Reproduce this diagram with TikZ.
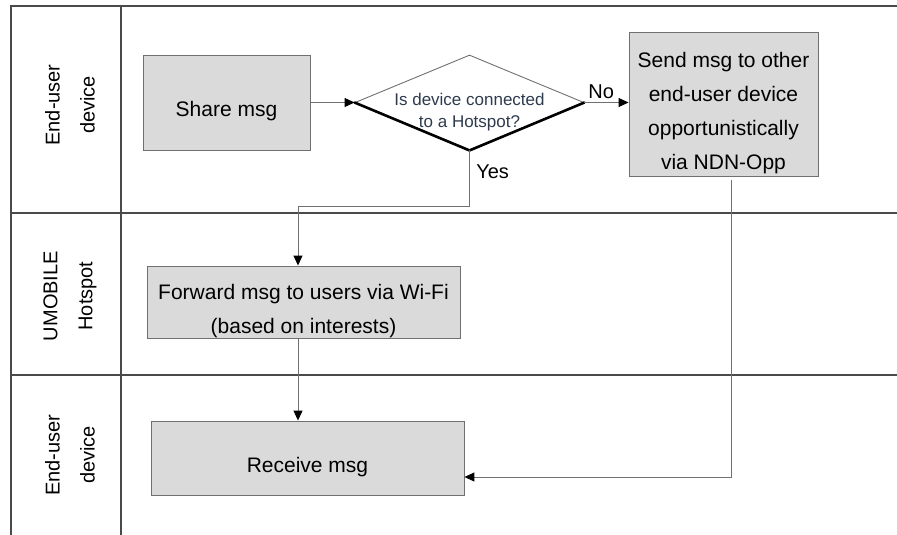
\documentclass[tikz,border=0pt]{standalone}
\usepackage{fontspec}
\setmainfont{Liberation Sans}
\usetikzlibrary{arrows.meta}
\usetikzlibrary{shapes.geometric}
\usetikzlibrary{calc}

\definecolor{boxgray}{HTML}{DADADA}
\definecolor{linegray}{HTML}{707070}
\definecolor{lanegray}{HTML}{4A4A4A}
\definecolor{asktext}{HTML}{2E3B4E}

\begin{document}
\begin{tikzpicture}[x=1pt,y=-1pt,
    lane/.style={draw=lanegray,line width=1.2pt},
    box/.style={draw=linegray,fill=boxgray,line width=0.9pt,inner sep=0pt,
        align=center,text height=33pt,font=\fontsize{21}{34}\selectfont},
    decision/.style={diamond,draw=linegray,line width=0.9pt,inner sep=0pt,
        minimum width=229pt,minimum height=95pt},
    flow/.style={draw=linegray,line width=1pt,
        -{Triangle[length=10pt,width=9pt,color=black]}},
    lanelabel/.style={rotate=90,align=center,font=\fontsize{20}{35}\selectfont},
    tag/.style={font=\fontsize{20}{24}\selectfont}]
    \useasboundingbox (0,0) rectangle (897,535);

    % lanes
    \draw[lane] (11,535) -- (11,6) -- (897,6);
    \draw[lane] (121,6) -- (121,535);
    \draw[lane] (11,213) -- (897,213);
    \draw[lane] (11,375) -- (897,375);

    \node[lanelabel] (lanetop) at (70,105) {End-user\\device};
    \node[lanelabel] (lanemid) at (70,296) {UMOBILE\\Hotspot};
    \node[lanelabel] (lanebot) at (70,455) {End-user\\device};

    % steps
    \node[box,minimum width=167pt,minimum height=95pt] (share) at (226.5,102.5) {Share msg};
    \node[decision] (dec) at (469.5,102.5) {};
    \node[font=\fontsize{17}{22}\selectfont,text=asktext,align=center,text height=54pt]
        (dectext) at (dec) {Is device connected\\to a Hotspot?};
    \draw[line width=2.6pt,line cap=round] (dec.west) -- (dec.south) -- (dec.east);
    \node[box,minimum width=189pt,minimum height=144pt,text height=135pt] (send) at (723.5,104)
        {Send msg to other\\end-user device\\opportunistically\\via NDN-Opp};
    \node[box,minimum width=313pt,minimum height=72pt,text height=67pt] (fwd) at (303.5,302)
        {Forward msg to users via Wi-Fi\\(based on interests)};
    \node[box,minimum width=313pt,minimum height=74pt] (recv) at (307.5,458) {Receive msg};

    \coordinate (yesbend) at (298,206);
    \coordinate (oppbend) at (731,477);

    % connectors
    \draw[flow] (share.east) -- (dec.west);
    \draw[flow] (dec.east) -- node[tag,above,pos=0.38] {No} (dec.east -| send.west);
    \draw[flow] (dec.south) -- node[tag,right,pos=0.39,xshift=3pt] {Yes} (dec.south |- yesbend)
        -| (yesbend |- fwd.north);
    \draw[flow] (yesbend |- fwd.south) -- (yesbend |- recv.north);
    \draw[flow] ($(oppbend |- send.south)+(0,4)$) -- (oppbend) -- (oppbend -| recv.east);
\end{tikzpicture}
\end{document}
